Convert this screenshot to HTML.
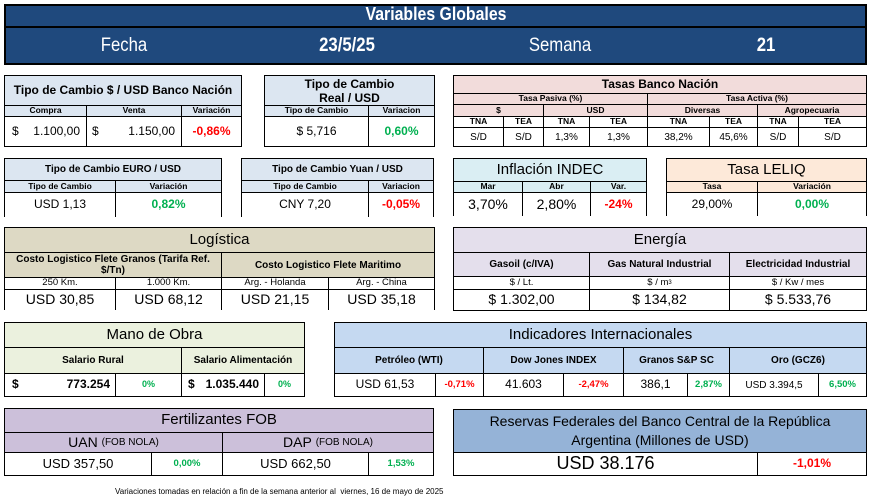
<!DOCTYPE html>
<html><head><meta charset="utf-8"><style>
body{margin:0;width:871px;height:499px;background:#fff;position:relative;overflow:hidden;font-family:"Liberation Sans",Arial,sans-serif;}
.c{position:absolute;box-sizing:border-box;border:1px solid #000;display:flex;align-items:center;justify-content:center;text-align:center;white-space:nowrap;overflow:hidden;color:#000;line-height:1.1;}
.b{font-weight:bold}
.s{font-size:8.5px;font-weight:bold}
.S{font-size:10px;font-weight:bold}
.v{font-size:12px}
.t{font-size:12px;font-weight:bold}
.T{font-size:15px}
.r{color:#ff0000;font-weight:bold}
.g{color:#00b050;font-weight:bold}
.hd{position:absolute;color:#fff;font-size:19px;transform:scaleX(0.88);}
</style></head><body>
<!-- header -->
<div class="c" style="left:4px;top:4px;width:863px;height:61px;background:#1f497d;border:2px solid #000"></div>
<div style="position:absolute;left:5px;top:26px;width:861px;height:2px;background:#000"></div>
<div class="hd b" style="left:326px;top:4px;width:220px;text-align:center;font-size:18px">Variables Globales</div>
<div class="hd" style="left:74px;top:35px;width:100px;text-align:center">Fecha</div>
<div class="hd b" style="left:297px;top:35px;width:100px;text-align:center">23/5/25</div>
<div class="hd" style="left:510px;top:35px;width:100px;text-align:center">Semana</div>
<div class="hd b" style="left:716px;top:35px;width:100px;text-align:center">21</div>

<!-- box1 -->
<div class="c t" style="left:4px;top:75px;width:238px;height:31px;background:#dce6f1">Tipo de Cambio $ / USD Banco Nación</div>
<div class="c s" style="left:4px;top:105px;width:83px;height:12px;background:#dce6f1">Compra</div>
<div class="c s" style="left:86px;top:105px;width:96px;height:12px;background:#dce6f1">Venta</div>
<div class="c s" style="left:181px;top:105px;width:61px;height:12px;background:#dce6f1">Variación</div>
<div class="c v" style="left:4px;top:116px;width:83px;height:31px;justify-content:space-between;padding:0 6px 0 7px"><span>$</span><span>1.100,00</span></div>
<div class="c v" style="left:86px;top:116px;width:96px;height:31px;justify-content:space-between;padding:0 6px 0 5px"><span>$</span><span>1.150,00</span></div>
<div class="c v r" style="left:181px;top:116px;width:61px;height:31px">-0,86%</div>
<!-- box2 -->
<div class="c t" style="left:264px;top:75px;width:171px;height:31px;background:#dce6f1;white-space:normal;line-height:14px">Tipo de Cambio<br>Real / USD</div>
<div class="c s" style="left:264px;top:105px;width:105px;height:12px;background:#dce6f1">Tipo de Cambio</div>
<div class="c s" style="left:368px;top:105px;width:67px;height:12px;background:#dce6f1">Variacion</div>
<div class="c v" style="left:264px;top:116px;width:105px;height:31px">$ 5,716</div>
<div class="c v g" style="left:368px;top:116px;width:67px;height:31px">0,60%</div>
<!-- tasas -->
<div class="c t" style="left:453px;top:75px;width:414px;height:19px;background:#f2dcdb">Tasas Banco Nación</div>
<div class="c s" style="left:453px;top:93px;width:195px;height:12px;background:#f2dcdb">Tasa Pasiva (%)</div>
<div class="c s" style="left:647px;top:93px;width:220px;height:12px;background:#f2dcdb">Tasa Activa (%)</div>
<div class="c s" style="left:453px;top:104px;width:91px;height:13px;background:#f2dcdb">$</div>
<div class="c s" style="left:543px;top:104px;width:105px;height:13px;background:#f2dcdb">USD</div>
<div class="c s" style="left:647px;top:104px;width:111px;height:13px;background:#f2dcdb">Diversas</div>
<div class="c s" style="left:757px;top:104px;width:110px;height:13px;background:#f2dcdb">Agropecuaria</div>
<div class="c s" style="left:453px;top:116px;width:51px;height:12px">TNA</div>
<div class="c s" style="left:503px;top:116px;width:41px;height:12px">TEA</div>
<div class="c s" style="left:543px;top:116px;width:47px;height:12px">TNA</div>
<div class="c s" style="left:589px;top:116px;width:59px;height:12px">TEA</div>
<div class="c s" style="left:647px;top:116px;width:63px;height:12px">TNA</div>
<div class="c s" style="left:709px;top:116px;width:49px;height:12px">TEA</div>
<div class="c s" style="left:757px;top:116px;width:42px;height:12px">TNA</div>
<div class="c s" style="left:798px;top:116px;width:69px;height:12px">TEA</div>
<div class="c" style="left:453px;top:127px;width:51px;height:20px;font-size:10px">S/D</div>
<div class="c" style="left:503px;top:127px;width:41px;height:20px;font-size:10px">S/D</div>
<div class="c" style="left:543px;top:127px;width:47px;height:20px;font-size:10px">1,3%</div>
<div class="c" style="left:589px;top:127px;width:59px;height:20px;font-size:10px">1,3%</div>
<div class="c" style="left:647px;top:127px;width:63px;height:20px;font-size:10px">38,2%</div>
<div class="c" style="left:709px;top:127px;width:49px;height:20px;font-size:10px">45,6%</div>
<div class="c" style="left:757px;top:127px;width:42px;height:20px;font-size:10px">S/D</div>
<div class="c" style="left:798px;top:127px;width:69px;height:20px;font-size:10px">S/D</div>

<!-- euro -->
<div class="c b" style="left:4px;top:158px;width:218px;height:23px;background:#dce6f1;font-size:10px">Tipo de Cambio EURO / USD</div>
<div class="c s" style="left:4px;top:180px;width:112px;height:13px;background:#dce6f1">Tipo de Cambio</div>
<div class="c s" style="left:115px;top:180px;width:107px;height:13px;background:#dce6f1">Variación</div>
<div class="c v" style="left:4px;top:192px;width:112px;height:25px;border-bottom:none">USD 1,13</div>
<div class="c v g" style="left:115px;top:192px;width:107px;height:25px;border-bottom:none">0,82%</div>
<!-- yuan -->
<div class="c b" style="left:241px;top:158px;width:193px;height:23px;background:#dce6f1;font-size:10px">Tipo de Cambio Yuan / USD</div>
<div class="c s" style="left:241px;top:180px;width:128px;height:13px;background:#dce6f1">Tipo de Cambio</div>
<div class="c s" style="left:368px;top:180px;width:66px;height:13px;background:#dce6f1">Variacion</div>
<div class="c v" style="left:241px;top:192px;width:128px;height:25px;border-bottom:none">CNY 7,20</div>
<div class="c v r" style="left:368px;top:192px;width:66px;height:25px;border-bottom:none">-0,05%</div>
<!-- inflacion -->
<div class="c T" style="left:453px;top:158px;width:194px;height:24px;background:#daeef3">Inflación INDEC</div>
<div class="c s" style="left:453px;top:181px;width:70px;height:12px;background:#daeef3">Mar</div>
<div class="c s" style="left:522px;top:181px;width:69px;height:12px;background:#daeef3">Abr</div>
<div class="c s" style="left:590px;top:181px;width:57px;height:12px;background:#daeef3">Var.</div>
<div class="c" style="left:453px;top:192px;width:70px;height:24px;font-size:14px;border-bottom:none">3,70%</div>
<div class="c" style="left:522px;top:192px;width:69px;height:24px;font-size:14px;border-bottom:none">2,80%</div>
<div class="c v r" style="left:590px;top:192px;width:57px;height:24px;border-bottom:none">-24%</div>
<!-- leliq -->
<div class="c T" style="left:666px;top:158px;width:201px;height:24px;background:#fde9d9">Tasa LELIQ</div>
<div class="c s" style="left:666px;top:181px;width:92px;height:12px;background:#fde9d9">Tasa</div>
<div class="c s" style="left:757px;top:181px;width:110px;height:12px;background:#fde9d9">Variación</div>
<div class="c v" style="left:666px;top:192px;width:92px;height:24px;border-bottom:none">29,00%</div>
<div class="c v g" style="left:757px;top:192px;width:110px;height:24px;border-bottom:none">0,00%</div>

<!-- logistica -->
<div class="c T" style="left:4px;top:227px;width:431px;height:26px;background:#ddd9c4">Logística</div>
<div class="c S" style="left:4px;top:252px;width:218px;height:26px;background:#ddd9c4;white-space:normal;line-height:11px;padding:0 2px">Costo Logistico Flete Granos (Tarifa Ref. $/Tn)</div>
<div class="c S" style="left:221px;top:252px;width:214px;height:26px;background:#ddd9c4">Costo Logistico Flete Maritimo</div>
<div class="c" style="left:4px;top:277px;width:112px;height:13px;font-size:9.5px">250 Km.</div>
<div class="c" style="left:115px;top:277px;width:107px;height:13px;font-size:9.5px">1.000 Km.</div>
<div class="c" style="left:221px;top:277px;width:108px;height:13px;font-size:9.5px">Arg. - Holanda</div>
<div class="c" style="left:328px;top:277px;width:107px;height:13px;font-size:9.5px">Arg. - China</div>
<div class="c" style="left:4px;top:289px;width:112px;height:21px;font-size:14px;border-bottom:none">USD 30,85</div>
<div class="c" style="left:115px;top:289px;width:107px;height:21px;font-size:14px;border-bottom:none">USD 68,12</div>
<div class="c" style="left:221px;top:289px;width:108px;height:21px;font-size:14px;border-bottom:none">USD 21,15</div>
<div class="c" style="left:328px;top:289px;width:107px;height:21px;font-size:14px;border-bottom:none">USD 35,18</div>
<!-- energia -->
<div class="c T" style="left:453px;top:227px;width:414px;height:26px;background:#e4dfec">Energía</div>
<div class="c S" style="left:453px;top:252px;width:137px;height:25px;background:#e4dfec">Gasoil (c/IVA)</div>
<div class="c S" style="left:589px;top:252px;width:141px;height:25px;background:#e4dfec">Gas Natural Industrial</div>
<div class="c S" style="left:729px;top:252px;width:138px;height:25px;background:#e4dfec">Electricidad Industrial</div>
<div class="c" style="left:453px;top:276px;width:137px;height:14px;font-size:9.5px">$ / Lt.</div>
<div class="c" style="left:589px;top:276px;width:141px;height:14px;font-size:9.5px">$ / m<sup style="font-size:6px">3</sup></div>
<div class="c" style="left:729px;top:276px;width:138px;height:14px;font-size:9.5px">$ / Kw / mes</div>
<div class="c" style="left:453px;top:289px;width:137px;height:22px;font-size:14px">$ 1.302,00</div>
<div class="c" style="left:589px;top:289px;width:141px;height:22px;font-size:14px">$ 134,82</div>
<div class="c" style="left:729px;top:289px;width:138px;height:22px;font-size:14px">$ 5.533,76</div>

<!-- mano de obra -->
<div class="c T" style="left:4px;top:322px;width:301px;height:26px;background:#ebf1de">Mano de Obra</div>
<div class="c S" style="left:4px;top:347px;width:178px;height:27px;background:#ebf1de">Salario Rural</div>
<div class="c S" style="left:181px;top:347px;width:124px;height:27px;background:#ebf1de">Salario Alimentación</div>
<div class="c b" style="left:4px;top:373px;width:112px;height:24px;font-size:12px;justify-content:space-between;padding:0 5px 0 7px"><span>$</span><span>773.254</span></div>
<div class="c g" style="left:115px;top:373px;width:67px;height:24px;font-size:9px">0%</div>
<div class="c b" style="left:181px;top:373px;width:84px;height:24px;font-size:12px;justify-content:space-between;padding:0 5px 0 6px"><span>$</span><span>1.035.440</span></div>
<div class="c g" style="left:264px;top:373px;width:41px;height:24px;font-size:9px">0%</div>
<!-- indicadores -->
<div class="c T" style="left:334px;top:322px;width:533px;height:26px;background:#c5d9f1">Indicadores Internacionales</div>
<div class="c S" style="left:334px;top:347px;width:150px;height:27px;background:#c5d9f1">Petróleo (WTI)</div>
<div class="c S" style="left:483px;top:347px;width:141px;height:27px;background:#c5d9f1">Dow Jones INDEX</div>
<div class="c S" style="left:623px;top:347px;width:107px;height:27px;background:#c5d9f1">Granos S&amp;P SC</div>
<div class="c S" style="left:729px;top:347px;width:138px;height:27px;background:#c5d9f1">Oro (GCZ6)</div>
<div class="c" style="left:334px;top:373px;width:102px;height:24px;font-size:12px">USD 61,53</div>
<div class="c r" style="left:435px;top:373px;width:49px;height:24px;font-size:9.5px">-0,71%</div>
<div class="c" style="left:483px;top:373px;width:81px;height:24px;font-size:12px">41.603</div>
<div class="c r" style="left:563px;top:373px;width:61px;height:24px;font-size:9.5px">-2,47%</div>
<div class="c" style="left:623px;top:373px;width:65px;height:24px;font-size:12px">386,1</div>
<div class="c g" style="left:687px;top:373px;width:43px;height:24px;font-size:9.5px">2,87%</div>
<div class="c" style="left:729px;top:373px;width:90px;height:24px;font-size:10px">USD 3.394,5</div>
<div class="c g" style="left:818px;top:373px;width:49px;height:24px;font-size:9.5px">6,50%</div>

<!-- fertilizantes -->
<div class="c T" style="left:4px;top:408px;width:430px;height:25px;background:#ccc0da">Fertilizantes FOB</div>
<div class="c" style="left:4px;top:432px;width:219px;height:21px;background:#ccc0da;font-size:14px">UAN&nbsp;<span style="font-size:10px">(FOB NOLA)</span></div>
<div class="c" style="left:222px;top:432px;width:212px;height:21px;background:#ccc0da;font-size:14px">DAP&nbsp;<span style="font-size:10px">(FOB NOLA)</span></div>
<div class="c" style="left:4px;top:452px;width:148px;height:24px;font-size:13px">USD 357,50</div>
<div class="c g" style="left:151px;top:452px;width:72px;height:24px;font-size:9.5px">0,00%</div>
<div class="c" style="left:222px;top:452px;width:147px;height:24px;font-size:13px">USD 662,50</div>
<div class="c g" style="left:368px;top:452px;width:66px;height:24px;font-size:9.5px">1,53%</div>
<!-- reservas -->
<div class="c" style="left:453px;top:409px;width:414px;height:44px;background:#95b3d7;font-size:14px;white-space:normal;line-height:19px">Reservas Federales del Banco Central de la República<br>Argentina (Millones de USD)</div>
<div class="c" style="left:453px;top:452px;width:305px;height:24px;font-size:18px">USD 38.176</div>
<div class="c r" style="left:757px;top:452px;width:110px;height:24px;font-size:12px">-1,01%</div>

<div style="position:absolute;left:115px;top:487px;font-size:8px;white-space:nowrap">Variaciones tomadas en relación a fin de la semana anterior al&nbsp; viernes, 16 de mayo de 2025</div>
</body></html>
